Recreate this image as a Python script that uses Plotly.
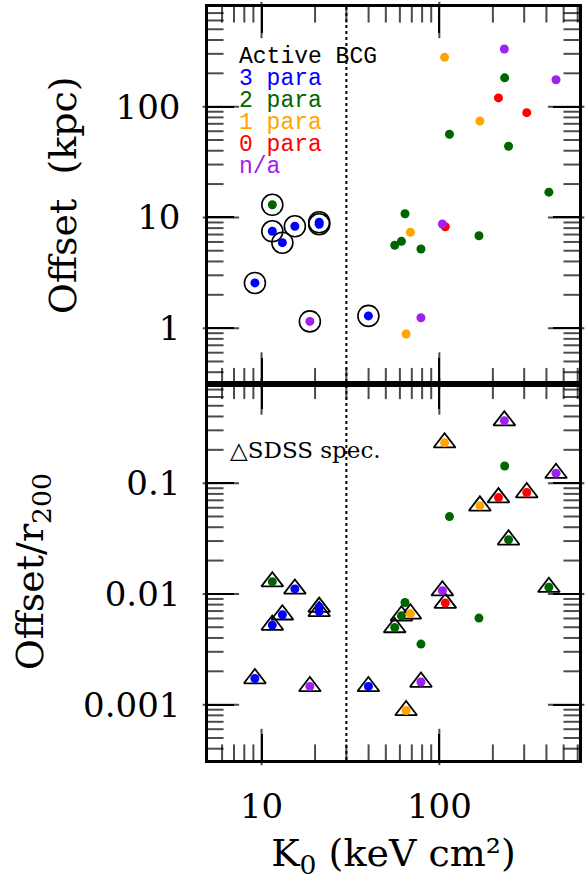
import math
import plotly.graph_objects as go

# ---- data ----
k0 = [107, 232, 233, 453, 215, 310, 169, 114, 245, 413,
      11.5, 11.5, 15.4, 13.1, 21.1, 21.1, 9.18, 18.7, 39.9,
      64.1, 104, 108, 68.7, 167, 61.2, 56.1, 78.8, 78.8, 65.0]
offset_kpc = [279, 332, 182, 175, 120, 88.3, 74.3, 56.3, 43.9, 16.9,
              13.0, 7.49, 8.31, 5.91, 9.03, 8.67, 2.56, 1.15, 1.29,
              10.8, 8.72, 8.24, 7.34, 6.83, 6.08, 5.60, 5.18, 1.24, 0.885]
offset_r200 = [0.232, 0.367, 0.143, 0.123, 0.0741, 0.0823, 0.0624, 0.0499, 0.0308, 0.0115,
               0.0129, 0.00523, 0.0111, 0.00648, 0.0076, 0.00694, 0.00172, 0.00146, 0.00146,
               0.00837, 0.0107, 0.00826, 0.00661, 0.00605, 0.00634, 0.00497, 0.00352, 0.00160, 0.000886]
n_para = ["1", "n/a", "2", "n/a", "0", "0", "1", "2", "2", "2",
          "2", "3", "3", "3", "3", "3", "3", "n/a", "3",
          "2", "n/a", "0", "1", "2", "2", "2", "2", "n/a", "1"]
sdss_spec = [1, 1, 0, 1, 1, 1, 1, 0, 1, 1,
             1, 1, 1, 1, 1, 1, 1, 1, 1,
             0, 1, 1, 1, 0, 1, 1, 0, 1, 1]
active_bcg = [0, 0, 0, 0, 0, 0, 0, 0, 0, 0,
              1, 1, 1, 1, 1, 1, 1, 1, 1,
              0, 0, 0, 0, 0, 0, 0, 0, 0, 0]

categories = ["3", "2", "1", "0", "n/a"]
legend_labels = ["3 para", "2 para", "1 para", "0 para", "n/a"]
cat_colors = {"3": "#0000ff", "2": "#006400", "1": "#ffa500", "0": "#ff0000", "n/a": "#a020f0"}
K0_CUT = 30

X_LO, X_HI = 5, 610
YT_LO, YT_HI = 10 ** -0.5, 10 ** 2.9
YB_LO, YB_HI = 10 ** -3.5, 10 ** -0.1


def sel(arr, mask):
    return [a for a, m in zip(arr, mask) if m]


def tick_vals(lo, hi, digits):
    out = []
    for e in range(int(math.floor(math.log10(lo))), int(math.ceil(math.log10(hi))) + 1):
        for d in digits:
            v = d * 10.0 ** e
            if lo < v < hi:
                out.append(v)
    return out


fig = go.Figure()

# ---- tick marks drawn as line-shaped markers just inside each panel edge ----
W_PX, H_PX = 374.0, 376.5
MAJOR_PX, MINOR_PX = 26, 13
x_dec = math.log10(X_HI / X_LO)


def panel_tick_markers(ylo, yhi):
    y_dec = math.log10(yhi / ylo)
    xs, ys, syms, sizes = [], [], [], []
    for digits, L in (([1], MAJOR_PX), (range(2, 10), MINOR_PX)):
        hy = 10 ** (L / 2 / H_PX * y_dec)      # half tick length, as a factor along y
        hx = 10 ** (L / 2 / W_PX * x_dec)      # half tick length, as a factor along x
        for v in tick_vals(X_LO, X_HI, digits):
            xs += [v, v]
            ys += [ylo * hy, yhi / hy]
            syms += ["line-ns", "line-ns"]
            sizes += [L, L]
        for v in tick_vals(ylo, yhi, digits):
            xs += [X_LO * hx, X_HI / hx]
            ys += [v, v]
            syms += ["line-ew", "line-ew"]
            sizes += [L, L]
    return xs, ys, syms, sizes


for xa, ya, lo, hi in (("x2", "y2", YT_LO, YT_HI), ("x", "y", YB_LO, YB_HI)):
    tx, ty, ts, tsz = panel_tick_markers(lo, hi)
    fig.add_trace(go.Scatter(x=tx, y=ty, mode="markers", cliponaxis=False,
                             marker=dict(symbol=ts, size=tsz, color="black",
                                         line=dict(color="black", width=2)),
                             xaxis=xa, yaxis=ya, hoverinfo="skip"))

# top panel: active BCG rings
fig.add_trace(go.Scatter(x=sel(k0, active_bcg), y=sel(offset_kpc, active_bcg), mode="markers",
                         marker=dict(symbol="circle-open", size=21, color="black", line=dict(width=1.6)),
                         xaxis="x2", yaxis="y2", hoverinfo="skip"))
# bottom panel: SDSS spec triangles
fig.add_trace(go.Scatter(x=sel(k0, sdss_spec), y=sel(offset_r200, sdss_spec), mode="markers",
                         marker=dict(symbol="triangle-up-open", size=19, color="black", line=dict(width=1.8)),
                         xaxis="x", yaxis="y", hoverinfo="skip"))

for c in categories:
    m = [p == c for p in n_para]
    fig.add_trace(go.Scatter(x=sel(k0, m), y=sel(offset_kpc, m), mode="markers",
                             marker=dict(size=9, color=cat_colors[c], line=dict(width=0)),
                             xaxis="x2", yaxis="y2"))
    fig.add_trace(go.Scatter(x=sel(k0, m), y=sel(offset_r200, m), mode="markers",
                             marker=dict(size=9, color=cat_colors[c], line=dict(width=0)),
                             xaxis="x", yaxis="y"))

tickfont = dict(family="DejaVu Serif", size=34, color="black")
titlefont = dict(family="DejaVu Serif", size=38, color="black")


def major_axis(**kw):
    d = dict(type="log", showline=True, linecolor="black", linewidth=2.5, mirror="allticks",
             ticks="inside", ticklen=26, tickwidth=2, tickcolor="black", showgrid=False,
             zeroline=False, tickfont=tickfont, dtick=1, exponentformat="none")
    d.update(kw)
    return d


fig.update_layout(
    width=586, height=880, margin=dict(l=208, r=4, t=7, b=120),
    paper_bgcolor="white", plot_bgcolor="white", showlegend=False,
    xaxis=major_axis(range=[math.log10(X_LO), math.log10(X_HI)], anchor="y", domain=[0, 1],
                     ticklabelstandoff=14,
                     title=dict(text="K<sub>0</sub> (keV cm²)", font=titlefont, standoff=20)),
    xaxis2=major_axis(range=[math.log10(X_LO), math.log10(X_HI)], anchor="y2", domain=[0, 1],
                      showticklabels=False),
    yaxis=major_axis(range=[math.log10(YB_LO), math.log10(YB_HI)], anchor="x", domain=[0, 0.5],
                     ticklabelstandoff=18,
                     title=dict(text="Offset/r<sub>200</sub>", font=titlefont, standoff=28)),
    yaxis2=major_axis(range=[math.log10(YT_LO), math.log10(YT_HI)], anchor="x2", domain=[0.5, 1],
                      ticklabelstandoff=18,
                      title=dict(text="Offset\u00a0\u00a0(kpc)", font=titlefont, standoff=28)),
)

fig.add_shape(type="line", xref="x", yref="paper", x0=K0_CUT, x1=K0_CUT, y0=0, y1=1,
              line=dict(color="black", width=2, dash="dot"))

# legend text
legend_font = "Liberation Mono"
fig.add_annotation(text="Active BCG", xref="x2 domain", yref="y2 domain", x=0.077, y=(383.5 - 57) / 376.5,
                   xanchor="left", yanchor="middle", showarrow=False,
                   font=dict(family=legend_font, size=23, color="black"))
for i, (c, lab) in enumerate(zip(categories, legend_labels)):
    fig.add_annotation(text=lab, xref="x2 domain", yref="y2 domain", x=0.077,
                       y=(383.5 - (57 + 22 * (i + 1))) / 376.5,
                       xanchor="left", yanchor="middle", showarrow=False,
                       font=dict(family=legend_font, size=23, color=cat_colors[c]))
fig.add_annotation(text="△SDSS spec.", xref="x domain", yref="y domain", x=0.054, y=(760 - 450) / 376.5,
                   xanchor="left", yanchor="middle", showarrow=False,
                   font=dict(family="DejaVu Serif", size=23, color="black"))

fig.write_html("out.html")
